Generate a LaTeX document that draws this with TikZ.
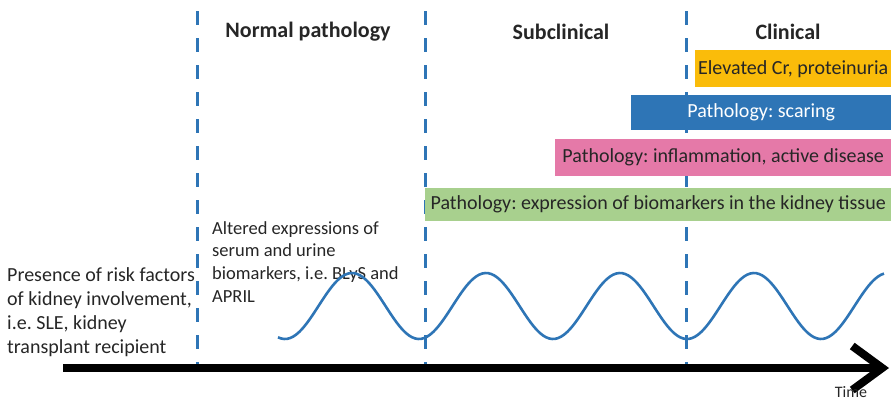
\documentclass[tikz,border=0pt]{standalone}
\usepackage{fontspec}
\setmainfont{Carlito}
\usetikzlibrary{arrows.meta}
\definecolor{lineblue}{RGB}{46,117,182}
\definecolor{crorange}{RGB}{250,188,10}
\definecolor{scarblue}{RGB}{46,117,182}
\definecolor{inflpink}{RGB}{229,121,168}
\definecolor{tissgreen}{RGB}{168,208,142}
\frenchspacing
\begin{document}
\begin{tikzpicture}[x=1pt, y={(0pt,-1pt)},
                    head/.style = {font=\fontsize{22}{24}\selectfont\bfseries, text=black!85},
                    bar/.style = {anchor=north west, inner sep=0pt, minimum height=35pt,
                                  font=\fontsize{20}{22}\selectfont, text=black!85},
                    note/.style = {anchor=north west, inner sep=0pt, align=left,
                                   font=\fontsize{20}{24.3}\selectfont, text=black!85},
                    divider/.style = {lineblue, line width=3pt, dash pattern=on 14pt off 13pt}]
                    \useasboundingbox (0,0) rectangle (891,400);

                    \coordinate (d1top) at (197,11);
                    \coordinate (d1bot) at (197,368);
                    \coordinate (d2top) at (425,11);
                    \coordinate (d2bot) at (425,368);
                    \coordinate (d3top) at (686,11);
                    \coordinate (d3bot) at (686,368);

                    \draw[divider] (d1top) -- (d1bot);
                    \draw[divider] (d2top) -- (d2bot);
                    \draw[divider] (d3top) -- (d3bot);

                    \node[head] (normal) at (308,32) {Normal pathology};
                    \node[head] (subclin) at (561,32) {Subclinical};
                    \node[head] (clinical) at (788,32) {Clinical};

                    \node[bar, fill=crorange, minimum width=196pt, minimum height=37pt] (cr) at (695,50) {Elevated Cr, proteinuria};
                    \node[bar, fill=scarblue, minimum width=260pt, text=white] (scar) at (631,95) {Pathology: scaring};
                    \node[bar, fill=inflpink, minimum width=336pt, minimum height=37pt] (inflam) at (555,139) {Pathology: inflammation, active disease};
                    \node[bar, fill=tissgreen, minimum width=466pt, minimum height=33pt] (tissue) at (425,188) {Pathology: expression of biomarkers in the kidney tissue};

                    \node[note] (risk) at (7,267) {Presence of risk factors\\of kidney involvement,\\i.e. SLE, kidney\\transplant recipient};
                    \node[note, font=\fontsize{18.5}{22.7}\selectfont] (altered) at (212,221) {Altered expressions of\\serum and urine\\biomarkers, i.e. BLyS and\\APRIL};

                    \draw[lineblue, line width=2.6pt, domain=278:884, samples=200, smooth]
                        plot (\x, {306 - 33*cos(2.68657*(\x-352))});

                    \coordinate (t0) at (63,368);
                    \coordinate (t1) at (889,368);
                    \draw[line width=8pt, -{Straight Barb[length=30pt, width=44pt]}] (t0) -- (t1);
                    \node[font=\fontsize{16}{18}\selectfont, text=black!85] (time) at (851,392) {Time};
                \end{tikzpicture}
\end{document}
